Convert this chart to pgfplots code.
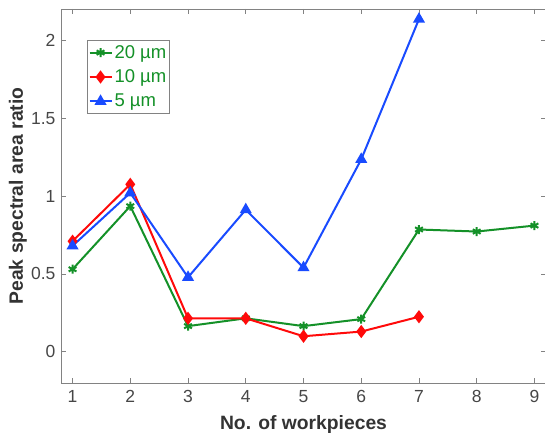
\documentclass[border=0pt]{standalone}
\usepackage{pgfplots}
\pgfplotsset{compat=1.18}
\usepackage{fontspec}
\setmainfont{Liberation Sans}
\definecolor{mgreen}{RGB}{20,145,40}
\definecolor{mred}{RGB}{255,10,10}
\definecolor{mblue}{RGB}{25,75,255}
\definecolor{axgray}{RGB}{130,130,130}
\definecolor{tickgray}{RGB}{70,70,70}
\begin{document}
\begin{tikzpicture}[x=1pt,y=1pt]
\begin{axis}[
  at={(61pt,55pt)}, anchor=south west,
  scale only axis, width=485pt, height=374pt,
  xmin=0.8, xmax=9.2, ymin=-0.2, ymax=2.2,
  xtick={1,2,...,9}, ytick={0,0.5,1,1.5,2},
  yticklabels={0,0.5,1,1.5,2},
  tick align=inside, major tick length=5pt,
  axis line style={axgray, line width=0.7pt},
  tick style={axgray, line width=0.7pt},
  ticklabel style={font=\fontsize{17.5}{20}\selectfont, text=tickgray},
  xticklabel style={yshift=-4pt},
  yticklabel style={xshift=-2pt},
  /pgf/number format/assume math mode=true,
  xlabel={\textbf{No. of workpieces}},
  ylabel={\textbf{Peak spectral area ratio}},
  label style={font=\fontsize{19.3}{22}\selectfont, text=black!80},
  xlabel style={at={(axis description cs:0.5,-0.112)}, anchor=center},
  ylabel style={at={(axis description cs:-0.0887,0.5)}, anchor=center},
  legend style={at={(0.054,0.917)}, anchor=north west, draw=axgray, line width=0.7pt,
    font=\fontsize{18.5}{20}\selectfont, text=mgreen, inner xsep=1pt, inner ysep=3pt,
    row sep=6pt, cells={anchor=west}},
  legend cell align=left,
  legend image code/.code={
    \draw[mark repeat=2,mark phase=2,#1] plot coordinates {(0pt,0pt) (11pt,0pt) (22pt,0pt)};
  },
  every axis plot/.append style={line width=2pt},
]
\addplot[mgreen, mark=asterisk, mark size=4.5pt, mark options={line width=2pt}] coordinates {
(1,0.53) (2,0.935) (3,0.165) (4,0.215) (5,0.165) (6,0.21) (7,0.785) (8,0.772) (9,0.81)};
\addlegendentry{20 µm}
\addplot[mred, mark=diamond*, mark size=5pt, mark options={fill=mred}] coordinates {
(1,0.71) (2,1.075) (3,0.215) (4,0.215) (5,0.10) (6,0.13) (7,0.225)};
\addlegendentry{10 µm}
\addplot[mblue, mark=triangle*, mark size=5pt, mark options={fill=mblue}] coordinates {
(1,0.68) (2,1.02) (3,0.478) (4,0.912) (5,0.54) (6,1.235) (7,2.135)};
\addlegendentry{5 µm}
\end{axis}
\pgfresetboundingbox
\path (0,0) rectangle (545,438);
\end{tikzpicture}
\end{document}
